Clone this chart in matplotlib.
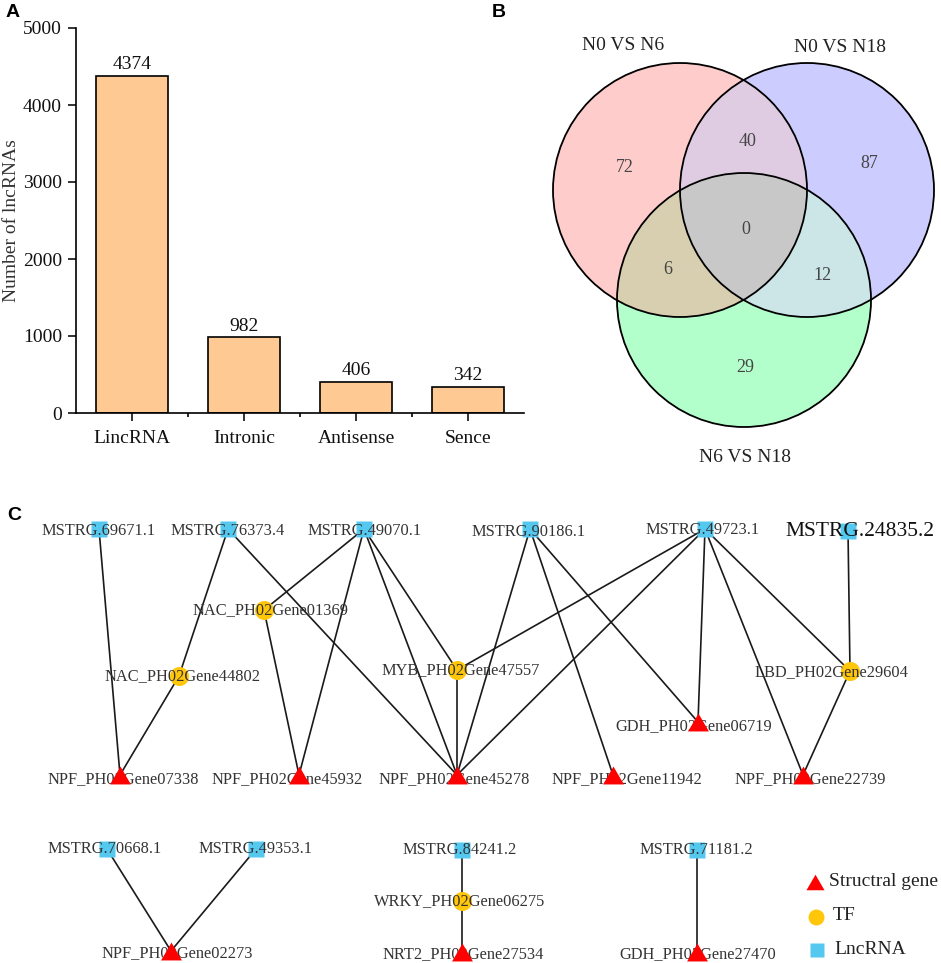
import numpy as np
import matplotlib
matplotlib.use("Agg")
import matplotlib.pyplot as plt
from matplotlib.patches import Circle, Polygon
from matplotlib.ticker import FixedLocator

plt.rcParams['font.family'] = ['Liberation Serif', 'DejaVu Serif']

# ---------------- data ----------------
bar_categories = ["LincRNA", "Intronic", "Antisense", "Sence"]
bar_values = [4374, 982, 406, 342]
y_ticks = [0, 1000, 2000, 3000, 4000, 5000]

venn_set_labels = ["N0 VS N6", "N0 VS N18", "N6 VS N18"]
venn_region_keys = ["100", "010", "001", "110", "101", "011", "111"]
venn_region_counts = [72, 87, 29, 40, 6, 12, 0]

lnc_nodes = ["MSTRG.69671.1", "MSTRG.76373.4", "MSTRG.49070.1", "MSTRG.90186.1",
             "MSTRG.49723.1", "MSTRG.24835.2", "MSTRG.70668.1", "MSTRG.49353.1",
             "MSTRG.84241.2", "MSTRG.71181.2"]
tf_nodes = ["NAC_PH02Gene01369", "NAC_PH02Gene44802", "MYB_PH02Gene47557",
            "LBD_PH02Gene29604", "WRKY_PH02Gene06275"]
struct_nodes = ["NPF_PH02Gene07338", "NPF_PH02Gene45932", "NPF_PH02Gene45278",
                "NPF_PH02Gene11942", "GDH_PH02Gene06719", "NPF_PH02Gene22739",
                "NPF_PH02Gene02273", "NRT2_PH02Gene27534", "GDH_PH02Gene27470"]
edges = [
    ("MSTRG.69671.1", "NPF_PH02Gene07338"),
    ("MSTRG.76373.4", "NAC_PH02Gene44802"),
    ("NAC_PH02Gene44802", "NPF_PH02Gene07338"),
    ("MSTRG.76373.4", "NPF_PH02Gene45278"),
    ("MSTRG.49070.1", "NAC_PH02Gene01369"),
    ("NAC_PH02Gene01369", "NPF_PH02Gene45932"),
    ("MSTRG.49070.1", "NPF_PH02Gene45932"),
    ("MSTRG.49070.1", "NPF_PH02Gene45278"),
    ("MSTRG.49070.1", "MYB_PH02Gene47557"),
    ("MYB_PH02Gene47557", "NPF_PH02Gene45278"),
    ("MSTRG.90186.1", "NPF_PH02Gene45278"),
    ("MSTRG.90186.1", "NPF_PH02Gene11942"),
    ("MSTRG.90186.1", "GDH_PH02Gene06719"),
    ("MSTRG.49723.1", "MYB_PH02Gene47557"),
    ("MSTRG.49723.1", "NPF_PH02Gene45278"),
    ("MSTRG.49723.1", "GDH_PH02Gene06719"),
    ("MSTRG.49723.1", "NPF_PH02Gene22739"),
    ("MSTRG.49723.1", "LBD_PH02Gene29604"),
    ("MSTRG.24835.2", "LBD_PH02Gene29604"),
    ("LBD_PH02Gene29604", "NPF_PH02Gene22739"),
    ("MSTRG.70668.1", "NPF_PH02Gene02273"),
    ("MSTRG.49353.1", "NPF_PH02Gene02273"),
    ("MSTRG.84241.2", "WRKY_PH02Gene06275"),
    ("WRKY_PH02Gene06275", "NRT2_PH02Gene27534"),
    ("MSTRG.71181.2", "GDH_PH02Gene27470"),
]
legend_labels = ["Structral gene", "TF", "LncRNA"]

# ---------------- layout (pixel positions) ----------------
layout = {
    "MSTRG.69671.1": (99, 529), "MSTRG.76373.4": (228, 529), "MSTRG.49070.1": (364, 529),
    "MSTRG.90186.1": (530, 529), "MSTRG.49723.1": (705, 529), "MSTRG.24835.2": (848, 531),
    "MSTRG.70668.1": (107, 849), "MSTRG.49353.1": (256, 849), "MSTRG.84241.2": (462, 850),
    "MSTRG.71181.2": (697, 850),
    "NAC_PH02Gene01369": (264, 610), "NAC_PH02Gene44802": (179, 676),
    "MYB_PH02Gene47557": (457, 670), "LBD_PH02Gene29604": (850, 671),
    "WRKY_PH02Gene06275": (462, 901),
    "NPF_PH02Gene07338": (120, 775), "NPF_PH02Gene45932": (299, 775),
    "NPF_PH02Gene45278": (457, 775), "NPF_PH02Gene11942": (613, 775),
    "GDH_PH02Gene06719": (698, 722), "NPF_PH02Gene22739": (803, 775),
    "NPF_PH02Gene02273": (171, 951), "NRT2_PH02Gene27534": (462, 952),
    "GDH_PH02Gene27470": (697, 952),
}
label_offset = {
    "MSTRG.69671.1": (0, 2), "MSTRG.76373.4": (0, 2), "MSTRG.49070.1": (1, 2),
    "MSTRG.90186.1": (-1, 3), "MSTRG.49723.1": (-2, 1), "MSTRG.24835.2": (12, 1),
    "NAC_PH02Gene01369": (6, 0), "NAC_PH02Gene44802": (4, 0),
    "MYB_PH02Gene47557": (4, 0), "LBD_PH02Gene29604": (-19, 1),
    "NPF_PH02Gene07338": (3, 4), "NPF_PH02Gene45932": (-12, 4),
    "NPF_PH02Gene45278": (-3, 4), "NPF_PH02Gene11942": (14, 4),
    "GDH_PH02Gene06719": (-4, 4), "NPF_PH02Gene22739": (7, 4),
    "MSTRG.70668.1": (-2, 0), "MSTRG.49353.1": (0, 0), "NPF_PH02Gene02273": (6, 2),
    "MSTRG.84241.2": (-2, 0), "WRKY_PH02Gene06275": (-2, 0),
    "NRT2_PH02Gene27534": (1, 2), "MSTRG.71181.2": (-1, 0), "GDH_PH02Gene27470": (1, 2),
}

W, H = 941, 963
fig = plt.figure(figsize=(W / 100, H / 100), dpi=100)

# full-figure pixel axes for panels B and C
axp = fig.add_axes([0, 0, 1, 1])
axp.set_xlim(0, W)
axp.set_ylim(H, 0)
axp.axis("off")

# ---------------- Panel A ----------------
ax = fig.add_axes([76 / W, 1 - 413 / H, 448 / W, 385 / H])
x = np.arange(len(bar_categories))
bars = ax.bar(x, bar_values, width=0.64, color="#FFC994", edgecolor="black", linewidth=1.2, zorder=2)
for xi, v in zip(x, bar_values):
    ax.annotate(f"{v}", (xi, v), xytext=(0, 2), textcoords="offset points",
                ha="center", va="bottom", fontsize=14, color="#111")
ax.set_xlim(-0.5, len(bar_categories) - 0.5)
ax.set_ylim(0, 5000)
ax.set_yticks(y_ticks)
ax.set_yticklabels([str(t) for t in y_ticks], fontsize=14)
ax.set_xticks(x)
ax.set_xticklabels(bar_categories, fontsize=14)
ax.xaxis.set_minor_locator(FixedLocator(x[:-1] + 0.5))
ax.tick_params(axis="both", which="major", direction="out", length=6, width=1.2, pad=4, colors="#111")
ax.tick_params(axis="x", which="minor", direction="out", length=3, width=1.2)
ax.tick_params(axis="x", which="major", pad=6)
for s in ["top", "right"]:
    ax.spines[s].set_visible(False)
for s in ["left", "bottom"]:
    ax.spines[s].set_linewidth(1.2)
ax.set_ylabel("Number of lncRNAs", fontsize=14, color="#333")
ax.yaxis.set_label_coords(-0.125, 0.5)

# ---------------- Panel B (Venn) ----------------
circ_centers = [(680, 190), (807, 190), (744, 300)]
circ_r = 127
region_colors = {"100": "#FFCCCC", "010": "#CCCCFF", "001": "#B3FFCC",
                 "110": "#E0CCE2", "101": "#D8CFB0", "011": "#CCE6E8", "111": "#C8C8C8"}


def convex_intersection(idxs, n=2000):
    pts = []
    for i in idxs:
        cx, cy = circ_centers[i]
        t = np.linspace(0, 2 * np.pi, n, endpoint=False)
        px = cx + circ_r * np.cos(t)
        py = cy + circ_r * np.sin(t)
        ok = np.ones(n, bool)
        for j in idxs:
            if j == i:
                continue
            qx, qy = circ_centers[j]
            ok &= (px - qx) ** 2 + (py - qy) ** 2 <= circ_r ** 2 + 1e-6
        pts.append(np.column_stack([px[ok], py[ok]]))
    pts = np.vstack(pts)
    c = pts.mean(axis=0)
    ang = np.arctan2(pts[:, 1] - c[1], pts[:, 0] - c[0])
    return pts[np.argsort(ang)]


for i, key in enumerate(["100", "010", "001"]):
    axp.add_patch(Circle(circ_centers[i], circ_r, facecolor=region_colors[key], edgecolor="none", zorder=1))
for key, idxs in [("110", [0, 1]), ("101", [0, 2]), ("011", [1, 2]), ("111", [0, 1, 2])]:
    axp.add_patch(Polygon(convex_intersection(idxs), closed=True, facecolor=region_colors[key],
                          edgecolor="none", zorder=2 if len(idxs) == 2 else 3))
for c in circ_centers:
    axp.add_patch(Circle(c, circ_r, facecolor="none", edgecolor="black", linewidth=1.3, zorder=4))

set_label_pos = [(623, 46), (840, 48), (745, 458)]
for lab, (tx, ty) in zip(venn_set_labels, set_label_pos):
    axp.text(tx, ty, lab, ha="center", va="center", fontsize=14, color="#222", zorder=5)
region_label_pos = {"100": (625, 167), "010": (869, 163), "001": (745, 367), "110": (748, 141),
                    "101": (668, 270), "011": (822, 275), "111": (746, 229)}
for key, cnt in zip(venn_region_keys, venn_region_counts):
    tx, ty = region_label_pos[key]
    axp.text(tx, ty, str(cnt), ha="center", va="center", fontsize=13, color="#444", zorder=5)

# ---------------- Panel C (network) ----------------
for a, b in edges:
    (x1, y1), (x2, y2) = layout[a], layout[b]
    axp.plot([x1, x2], [y1, y2], color="#1a1a1a", linewidth=1.2, zorder=6, solid_capstyle="round")

tri_verts = [(-1, -0.86), (1, -0.86), (0, 0.86)]
lx = [layout[n][0] for n in lnc_nodes]
ly = [layout[n][1] for n in lnc_nodes]
axp.plot(lx, ly, ls="none", marker="s", ms=12.2, mfc="#55C8F0", mec="none", zorder=7)
tx_ = [layout[n][0] for n in tf_nodes]
ty_ = [layout[n][1] for n in tf_nodes]
axp.plot(tx_, ty_, ls="none", marker="o", ms=13.7, mfc="#FFC60A", mec="none", zorder=7)

for n in lnc_nodes + tf_nodes + struct_nodes:
    x0, y0 = layout[n]
    dx, dy = label_offset[n]
    big = n == "MSTRG.24835.2"
    axp.text(x0 + dx, y0 + dy, n, ha="center", va="center",
             fontsize=15.5 if big else 11.8, color="#111" if big else "#333", zorder=8)

sx = [layout[n][0] for n in struct_nodes]
sy = [layout[n][1] for n in struct_nodes]
axp.plot(sx, sy, ls="none", marker=tri_verts, ms=15, mfc="#FF0000", mec="none", zorder=9)

# legend
leg_marker_pos = [(815, 882), (816, 917), (817, 950)]
leg_markers = [(tri_verts, 13, "#FF0000"), ("o", 11.5, "#FFC60A"), ("s", 10.5, "#55C8F0")]
leg_text_x = [829, 833, 834]
for (mx, my), (mk, ms, col), lab, tx0 in zip(leg_marker_pos, leg_markers, legend_labels, leg_text_x):
    axp.plot([mx], [my], ls="none", marker=mk, ms=ms, mfc=col, mec="none", zorder=9)
    axp.text(tx0, my - 1, lab, ha="left", va="center", fontsize=14, color="#222", zorder=9)

# panel letters
for letter, (px_, py_) in zip("ABC", [(6, 4), (492, 4), (7, 507)]):
    fig.text(px_ / W, 1 - py_ / H, letter, ha="left", va="top", fontsize=14, fontweight="bold",
             family="Liberation Sans")

fig.savefig("out.png", dpi=100)
